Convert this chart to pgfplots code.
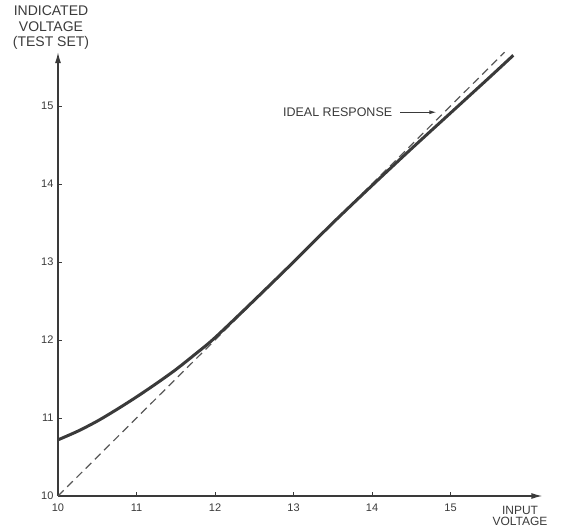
\documentclass[border=0pt]{standalone}
\usepackage{fontspec}
\setmainfont{Liberation Sans}
\usepackage{pgfplots}
\pgfplotsset{compat=1.18}
\usetikzlibrary{arrows.meta}
\definecolor{ink}{HTML}{3A3A3A}
\begin{document}
\begin{tikzpicture}
\useasboundingbox (-58pt,-34pt) rectangle (505pt,496pt);
\begin{axis}[
 x=78.5pt, y=78pt, xmin=10, xmax=16.17, ymin=10, ymax=15.69,
 axis lines=left,
 axis line style={line width=1.3pt, color=ink, -{Latex[length=11pt,width=6pt]}},
 xtick={10,11,12,13,14,15}, ytick={10,11,12,13,14,15},
 tick align=inside, major tick length=4pt, tick style={line width=0.8pt,color=ink},
 ticklabel style={font=\fontsize{11}{13}\selectfont, text=ink},
 /pgf/number format/assume math mode=true,
 xticklabel style={yshift=-4pt},
 yticklabel style={xshift=-1pt},
 clip=false,
]
\addplot[ink!85, line width=1.2pt, dash pattern=on 8pt off 5pt] coordinates {(10,10) (15.69,15.69)};
\addplot[ink, line width=3pt, smooth] coordinates {
(10,10.72) (10.25,10.83) (10.5,10.96) (10.75,11.11) (11,11.27) (11.25,11.44)
(11.5,11.62) (11.75,11.82) (12,12.03) (12.5,12.51) (13,13.0) (13.5,13.5)
(14,13.98) (14.5,14.45) (15,14.91) (15.5,15.37) (15.8,15.65)};
\draw[ink, line width=0.9pt, -{Latex[length=7pt,width=4pt]}] (axis cs:14.36,14.92) -- (axis cs:14.82,14.92);
\node[anchor=east, inner sep=0pt, text=ink, font=\fontsize{12.5}{14}\selectfont] at (axis cs:14.26,14.92) {IDEAL RESPONSE};
\end{axis}
\node[text=ink, align=center, font=\fontsize{14}{15.5}\selectfont] at (-7pt,468pt) {INDICATED\\VOLTAGE\\(TEST SET)};
\node[text=ink, align=center, font=\fontsize{12}{11.5}\selectfont] at (462pt,-20pt) {INPUT\\VOLTAGE};
\end{tikzpicture}
\end{document}
